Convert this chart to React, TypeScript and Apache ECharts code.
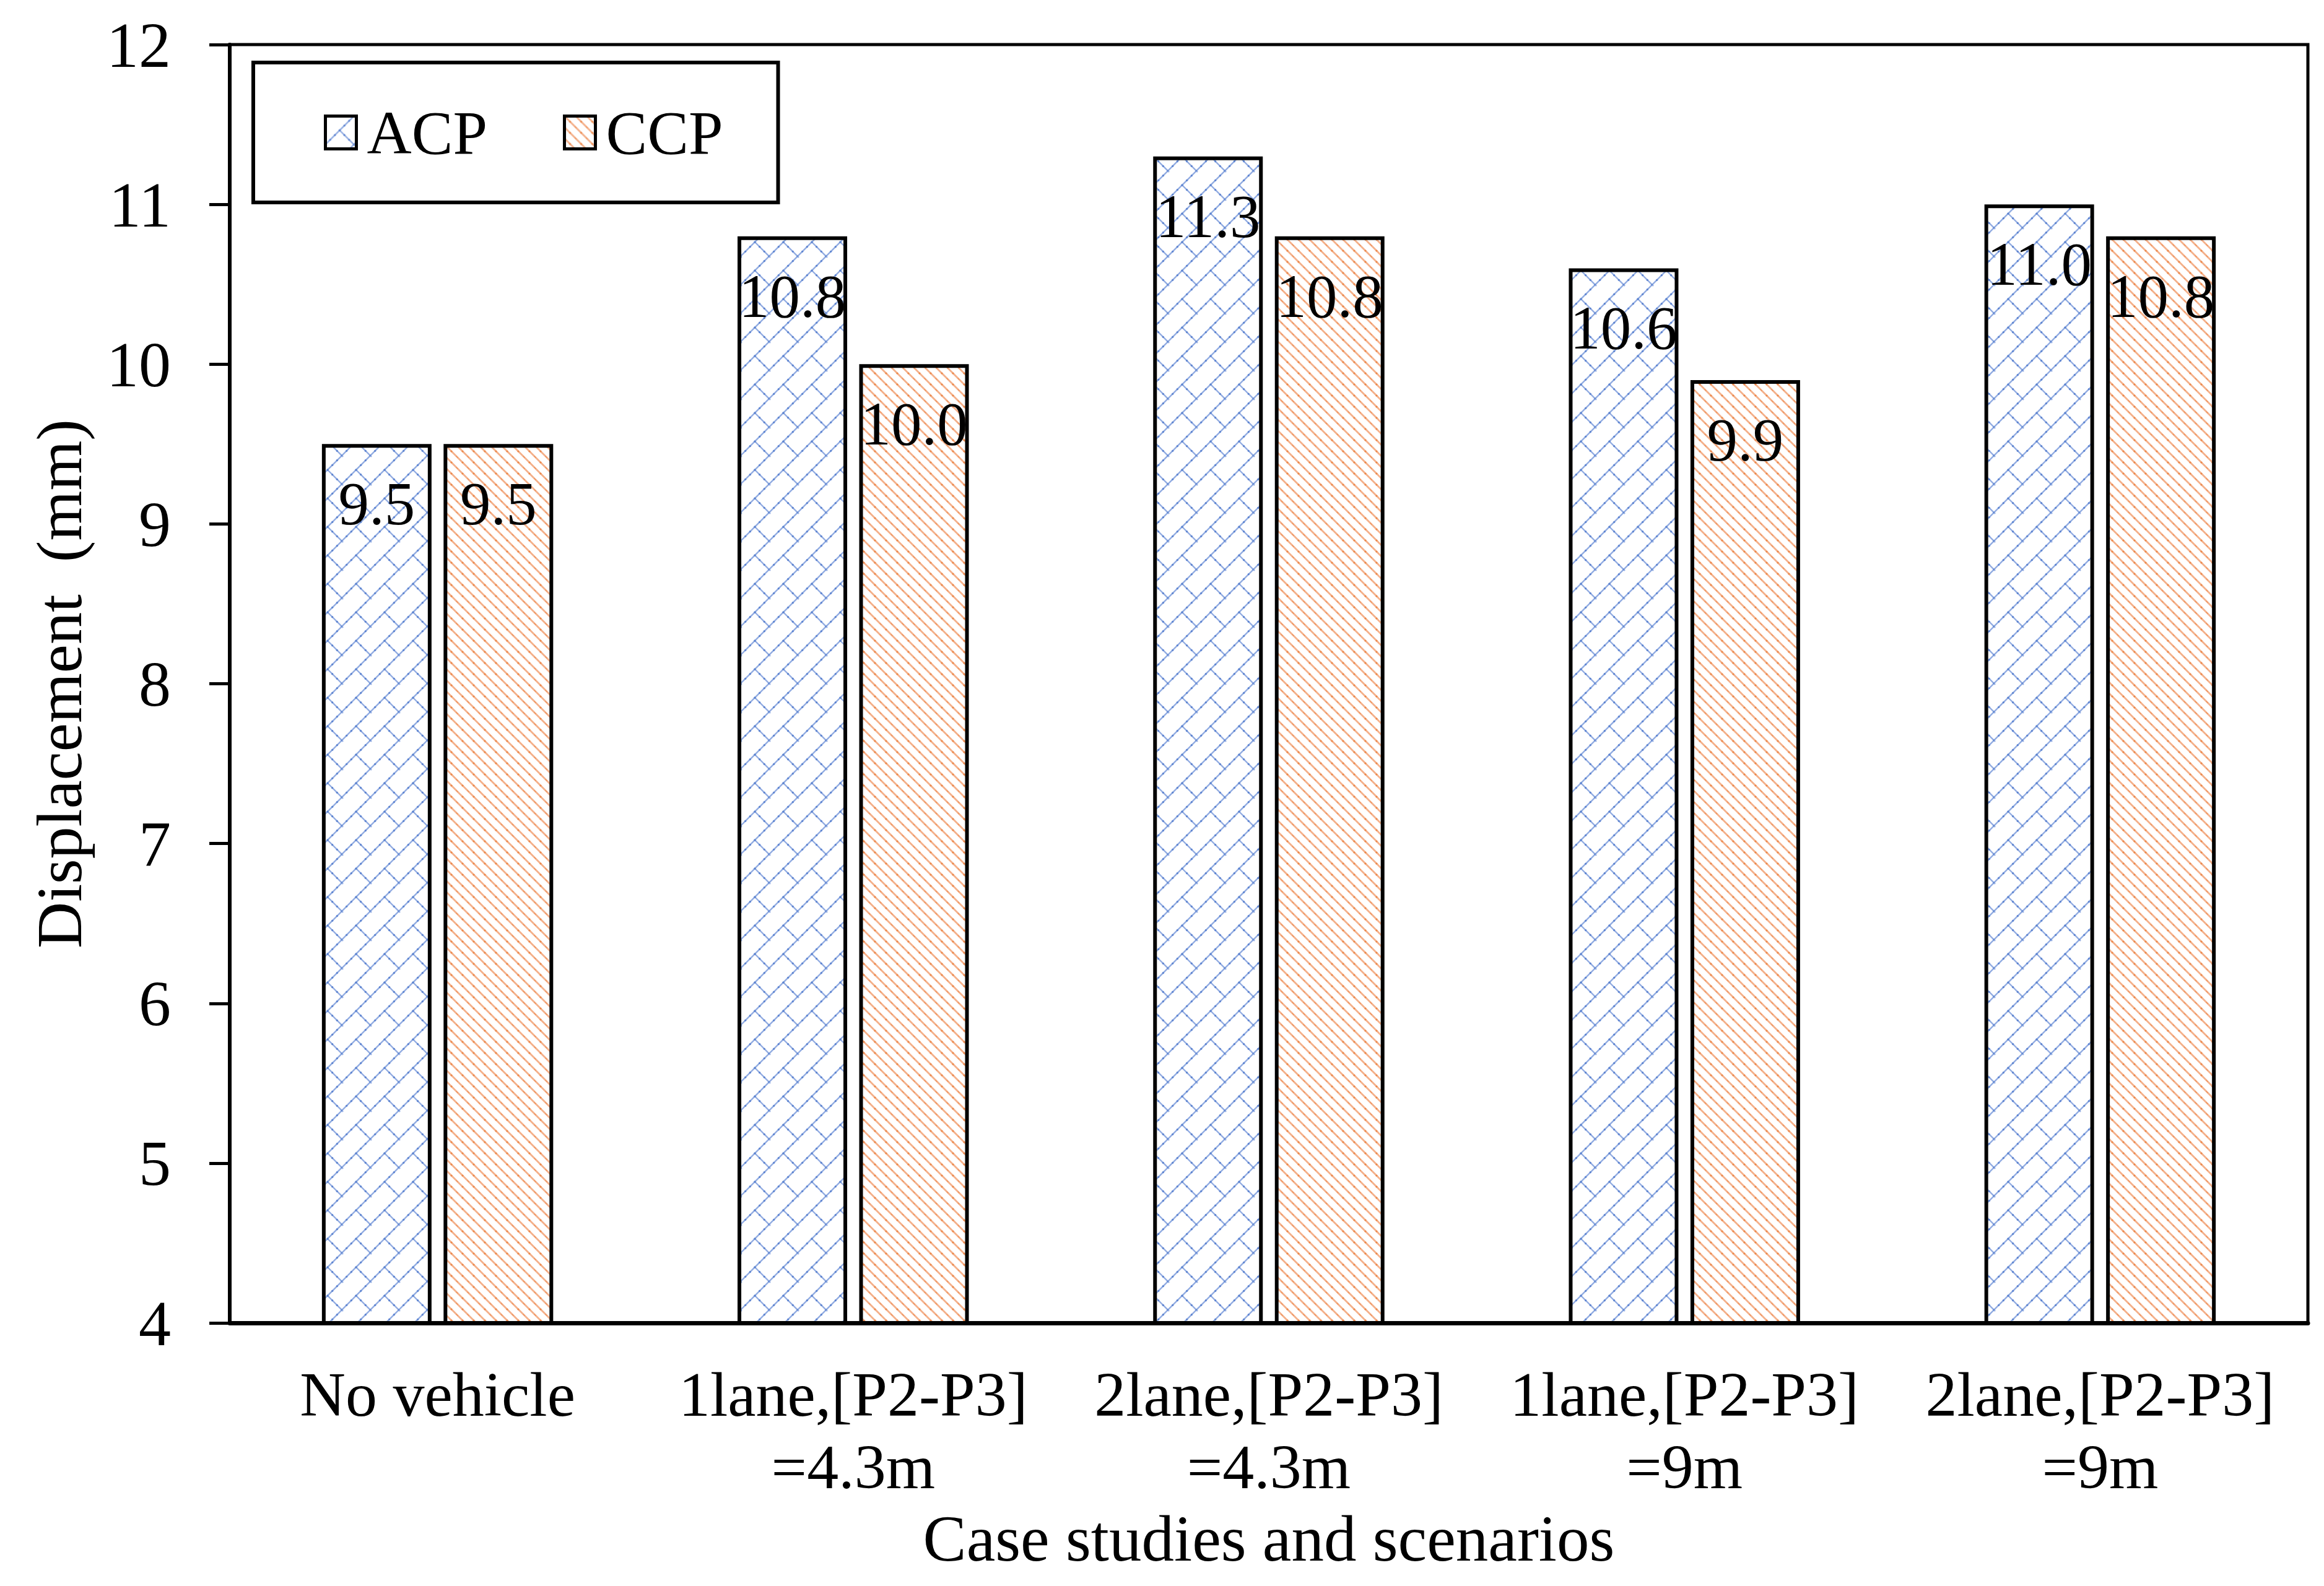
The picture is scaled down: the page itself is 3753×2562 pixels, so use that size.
import React, { useEffect, useRef } from "react";
import * as echarts from "echarts";

const categories = [
  "No vehicle",
  "1lane,[P2-P3]\n=4.3m",
  "2lane,[P2-P3]\n=4.3m",
  "1lane,[P2-P3]\n=9m",
  "2lane,[P2-P3]\n=9m",
];
const acpValues = [9.5, 10.8, 11.3, 10.6, 11.0];
const ccpValues = [9.5, 10.0, 10.8, 9.9, 10.8];
const seriesNames = ["ACP", "CCP"];
const yMin = 4;
const yMax = 12;
const yInterval = 1;

const FONT = '"Liberation Serif", "Times New Roman", serif';

function makeBrickPattern(): HTMLCanvasElement {
  const T = 46;
  const c = document.createElement("canvas");
  c.width = T;
  c.height = T;
  const ctx = c.getContext("2d")!;
  ctx.fillStyle = "#ffffff";
  ctx.fillRect(0, 0, T, T);
  ctx.strokeStyle = "#93ADE2";
  ctx.lineWidth = 2.4;
  ctx.lineCap = "butt";
  for (const k of [0, T, 2 * T]) {
    ctx.beginPath();
    ctx.moveTo(k + 6, -6);
    ctx.lineTo(-6, k + 6);
    ctx.stroke();
  }
  ctx.beginPath();
  ctx.moveTo(T / 2, T / 2);
  ctx.lineTo(T + 2, T + 2);
  ctx.moveTo(-T / 2, -T / 2);
  ctx.lineTo(2, 2);
  ctx.stroke();
  ctx.fillStyle = "#5F85D0";
  const step = T / 6;
  for (let i = 0; i <= 6; i++) {
    const x = i * step;
    ctx.beginPath();
    ctx.arc(x, T - x, 1.6, 0, Math.PI * 2);
    ctx.fill();
  }
  for (let i = 0; i <= 3; i++) {
    const x = T / 2 + i * (T / 6);
    ctx.beginPath();
    ctx.arc(x, x, 1.6, 0, Math.PI * 2);
    ctx.fill();
  }
  return c;
}

function makeDiagPattern(): HTMLCanvasElement {
  const S = 18;
  const c = document.createElement("canvas");
  c.width = S;
  c.height = S;
  const ctx = c.getContext("2d")!;
  ctx.fillStyle = "#ffffff";
  ctx.fillRect(0, 0, S, S);
  ctx.strokeStyle = "#F4B08A";
  ctx.lineWidth = 2.8;
  for (const k of [-S, 0, S]) {
    ctx.beginPath();
    ctx.moveTo(k - 4, -4);
    ctx.lineTo(k + S + 4, S + 4);
    ctx.stroke();
  }
  ctx.fillStyle = "#EC8A4E";
  for (const t of [0, S / 2, S]) {
    ctx.beginPath();
    ctx.arc(t, t, 1.6, 0, Math.PI * 2);
    ctx.fill();
  }
  return c;
}

export default function App() {
  const ref = useRef<HTMLDivElement>(null);

  useEffect(() => {
    document.body.style.margin = "0";
    if (!ref.current) return;
    const chart = echarts.init(ref.current, undefined, { renderer: "svg" });

    const brick = makeBrickPattern();
    const diag = makeDiagPattern();
    const acpFill: any = { image: brick, repeat: "repeat", imageWidth: brick.width, imageHeight: brick.height };
    const ccpFill: any = { image: diag, repeat: "repeat", imageWidth: diag.width, imageHeight: diag.height };

    const labelCfg = {
      show: true,
      position: "insideTop",
      distance: 47,
      color: "#000",
      fontFamily: FONT,
      fontSize: 99,
      formatter: (p: any) => Number(p.value).toFixed(1),
    };

    const option: any = {
      animation: false,
      backgroundColor: "#ffffff",
      textStyle: { fontFamily: FONT },
      grid: {
        left: 371,
        right: 26,
        top: 72,
        bottom: 425,
        show: true,
        borderColor: "#000",
        borderWidth: 5,
        backgroundColor: "transparent",
      },
      legend: {
        left: 409,
        top: 101,
        orient: "horizontal",
        icon: "rect",
        itemWidth: 50,
        itemHeight: 53,
        itemGap: 122,
        padding: [63, 89, 63, 114],
        borderColor: "#000",
        borderWidth: 6,
        backgroundColor: "#fff",
        itemStyle: { borderWidth: 5, borderColor: "#000" },
        textStyle: {
          fontFamily: FONT,
          fontSize: 100,
          color: "#000",
          padding: [0, 0, 0, 12],
        },
        data: seriesNames,
      },
      xAxis: {
        type: "category",
        data: categories,
        name: "Case studies and scenarios",
        nameLocation: "middle",
        nameGap: 296,
        nameTextStyle: { fontFamily: FONT, fontSize: 105, color: "#000" },
        axisLine: { show: true, lineStyle: { color: "#000", width: 7 } },
        axisTick: { show: false },
        axisLabel: {
          fontFamily: FONT,
          fontSize: 102,
          color: "#000",
          margin: 57,
          lineHeight: 117,
          interval: 0,
        },
        splitLine: { show: false },
      },
      yAxis: {
        type: "value",
        min: yMin,
        max: yMax,
        interval: yInterval,
        name: "Displacement  (mm)",
        nameLocation: "middle",
        nameGap: 224,
        nameTextStyle: { fontFamily: FONT, fontSize: 104, color: "#000" },
        axisLine: { show: true, lineStyle: { color: "#000", width: 6 } },
        axisTick: { show: true, inside: false, length: 33, lineStyle: { color: "#000", width: 5 } },
        axisLabel: { fontFamily: FONT, fontSize: 104, color: "#000", margin: 95 },
        splitLine: { show: false },
      },
      series: [
        {
          name: seriesNames[0],
          type: "bar",
          data: acpValues,
          barWidth: 177,
          barGap: "11%",
          itemStyle: { color: acpFill, borderColor: "#000", borderWidth: 6 },
          label: labelCfg,
        },
        {
          name: seriesNames[1],
          type: "bar",
          data: ccpValues,
          barWidth: 177,
          barGap: "11%",
          itemStyle: { color: ccpFill, borderColor: "#000", borderWidth: 6 },
          label: labelCfg,
        },
      ],
    };

    chart.setOption(option);
    return () => {
      chart.dispose();
    };
  }, []);

  return <div ref={ref} style={{ width: 3753, height: 2562 }} />;
}
